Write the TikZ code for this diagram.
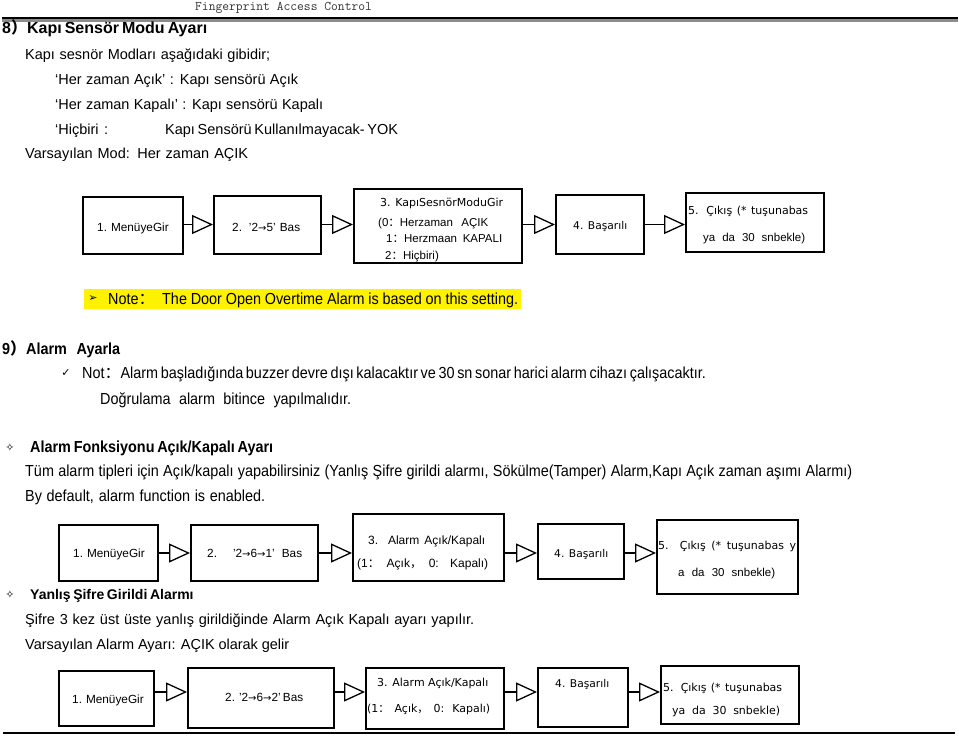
\documentclass[tikz,border=0pt]{standalone}
\usepackage{fontspec}
\setmainfont{Liberation Sans}
\newfontfamily\nar[FakeStretch=0.9]{Liberation Sans}
\newfontfamily\dv{DejaVu Sans}
\newfontfamily\cjk{Noto Sans CJK SC}
\usetikzlibrary{arrows.meta}
\newcommand\rarr{{\dv\fontsize{10pt}{10pt}\selectfont →}}
\newcommand\fc{{\cjk ：}}
\newcommand\fcm{{\cjk ，}}
\newcommand\fpar{{\cjk ）}}
\newcommand\Fs[1]{\fontsize{#1pt}{#1pt}\selectfont}
\newcommand\boxat[5]{\node[bxs, minimum width={#4pt-#2pt}, minimum height={#5pt-#3pt}] (#1) at (#2,#3) {};}
\newcommand\tx[6]{\node[anchor=base west, inner sep=0pt, font=#5] (#1) at (#2,#3) {\makebox[#4pt][s]{#6}};}
\newcommand\tn[5]{\node[anchor=base west, inner sep=0pt, font=#4] (#1) at (#2,#3) {#5};}
\tikzset{
  bxs/.style={draw, line width=1.8pt, anchor=north west, inner sep=0pt},
  flow/.style={line width=1.3pt, -{Triangle[open, length=21pt, width=19pt]}},
  sym/.style={inner sep=0pt, font=\dv\Fs{11}}
}
\begin{document}
\begin{tikzpicture}[x=1pt, y=-1pt]
\useasboundingbox (0,0) rectangle (959,736);
% header
\node[anchor=base west, inner sep=0pt, font=\ttfamily\Fs{13.2}, text=black!80] (hdr) at (195,10) {Fingerprint Access Control};
\coordinate (hl1) at (2,18);
\coordinate (hl2) at (958,18);
\draw[line width=2.4pt] (hl1) -- (hl2);
\draw[line width=2.4pt, black!45] ([yshift=-2.5pt]hl1) -- ([yshift=-2.5pt]hl2);
\coordinate (bl1) at (3,733);
\coordinate (bl2) at (955,733);
\draw[line width=2.6pt] (bl1) -- (bl2);

% section 8
\tx{s8h}{2}{34}{205}{\bfseries\Fs{16}}{8\fpar Kapı Sensör Modu Ayarı}
\tx{l1}{25}{59}{245}{\Fs{14.5}}{Kapı sesnör Modları aşağıdaki gibidir;}
\tx{l2}{55}{84}{243}{\Fs{14.5}}{‘Her zaman Açık’ : Kapı sensörü Açık}
\tx{l3}{55}{109}{268}{\Fs{14.5}}{‘Her zaman Kapalı’ : Kapı sensörü Kapalı}
\tx{l4a}{55}{134}{53}{\Fs{14.5}}{‘Hiçbiri :}
\tx{l4b}{165}{134}{232}{\Fs{14.5}}{Kapı Sensörü Kullanılmayacak- YOK}
\tx{l5}{25}{158}{223}{\Fs{14.5}}{Varsayılan Mod:  Her zaman AÇIK}

% row 1
\coordinate (r1) at (0,224.5);
\boxat{b11}{82}{196}{182}{253}
\boxat{b12}{213}{195}{320}{253}
\boxat{b13}{353}{188}{521}{262}
\boxat{b14}{555}{194}{643}{253}
\boxat{b15}{685}{192}{823}{251}
\draw[flow] (b11.east |- r1) -- (b12.west |- r1);
\draw[flow] (b12.east |- r1) -- (b13.west |- r1);
\draw[flow] (b13.east |- r1) -- (b14.west |- r1);
\draw[flow] (b14.east |- r1) -- (b15.west |- r1);
\tx{t11}{97}{231}{70}{\Fs{11.8}}{1. MenüyeGir}
\tx{t12}{232}{231}{68}{\Fs{11.8}}{2. ’2\rarr5’ Bas}
\tn{t13a}{380}{206}{\dv\Fs{11}}{3. KapıSesnörModuGir}
\tx{t13b}{378}{226}{110}{\Fs{11.5}}{(0\fc Herzaman AÇIK}
\tx{t13c}{386}{242}{116}{\Fs{11.5}}{1\fc Herzmaan KAPALI}
\tx{t13d}{385}{259}{58}{\Fs{11.5}}{2\fc Hiçbiri)}
\tn{t14}{573}{229}{\dv\Fs{10.7}}{4. Başarılı}
\tx{t15a}{688}{214}{120}{\dv\Fs{11}}{5. Çıkış (* tuşunabas}
\tx{t15b}{703}{241}{102}{\Fs{11.5}}{ya da 30 snbekle)}

% note
\fill[yellow] (84,289) rectangle (521,309);
\node[sym] (nar) at (93,299) {➢};
\tx{nt1}{108}{304}{40}{\nar\Fs{16}}{Note\fc}
\tx{nt2}{162}{304}{356}{\nar\Fs{16}}{The Door Open Overtime Alarm is based on this setting.}

% section 9
\tx{s9h}{2}{354}{118}{\nar\bfseries\Fs{16}}{9\fpar Alarm  Ayarla}
\node[sym] (chk) at (66,373) {✓};
\tx{n1}{82}{378.5}{618}{\nar\Fs{16}}{Not\fc Alarm başladığında buzzer devre dışı kalacaktır ve 30 sn sonar harici alarm cihazı çalışacaktır.}
\tx{n2}{100}{404.5}{251}{\nar\Fs{16}}{Doğrulama alarm bitince yapılmalıdır.}
\node[sym] (st1) at (10,447) {✧};
\tx{h2}{30}{452.5}{243}{\nar\bfseries\Fs{16}}{Alarm Fonksiyonu Açık/Kapalı Ayarı}
\tx{n3}{25}{476.5}{827}{\nar\Fs{16}}{Tüm alarm tipleri için Açık/kapalı yapabilirsiniz (Yanlış Şifre girildi alarmı, Sökülme(Tamper) Alarm,Kapı Açık zaman aşımı Alarmı)}
\tx{n4}{25}{501.5}{240}{\nar\Fs{16}}{By default, alarm function is enabled.}

% row 2
\coordinate (r2) at (0,553);
\boxat{b21}{58}{524}{157}{580}
\boxat{b22}{190}{524}{317}{580}
\boxat{b23}{352}{513}{503}{580}
\boxat{b24}{537}{523}{623}{578}
\boxat{b25}{656}{519}{797}{593}
\draw[flow] (b21.east |- r2) -- (b22.west |- r2);
\draw[flow] (b22.east |- r2) -- (b23.west |- r2);
\draw[flow] (b23.east |- r2) -- (b24.west |- r2);
\draw[flow] (b24.east |- r2) -- (b25.west |- r2);
\tx{t21}{73}{557}{70}{\Fs{11.8}}{1. MenüyeGir}
\tx{t22}{207}{557}{95}{\Fs{11.8}}{2.   ’2\rarr6\rarr1’ Bas}
\tx{t23a}{368}{544}{117}{\Fs{12}}{3. Alarm Açık/Kapalı}
\tx{t23b}{357}{567}{131}{\Fs{12}}{(1\fc{} Açık\fcm{} 0: Kapalı)}
\tn{t24}{554}{557}{\dv\Fs{10.7}}{4. Başarılı}
\tx{t25a}{658}{549}{138}{\dv\Fs{11}}{5. Çıkış (* tuşunabas   y}
\tx{t25b}{678}{576}{97}{\Fs{11.5}}{a da 30 snbekle)}

% section wrong password
\node[sym] (st2) at (10,594) {✧};
\tx{h3}{30}{599}{162}{\bfseries\Fs{14}}{Yanlış Şifre Girildi Alarmı}
\tx{n5}{25}{624}{449}{\Fs{14.5}}{Şifre 3 kez üst üste yanlış girildiğinde Alarm Açık Kapalı ayarı yapılır.}
\tx{n6}{25}{649}{264}{\Fs{14.5}}{Varsayılan Alarm Ayarı: AÇIK olarak gelir}

% row 3
\coordinate (r3) at (0,692);
\boxat{b31}{58}{670}{153}{725}
\boxat{b32}{187}{667}{333}{727}
\boxat{b33}{365}{667}{503}{728}
\boxat{b34}{537}{667}{627}{726}
\boxat{b35}{660}{665}{798}{723}
\draw[flow] (b31.east |- r3) -- (b32.west |- r3);
\draw[flow] (b32.east |- r3) -- (b33.west |- r3);
\draw[flow] (b33.east |- r3) -- (b34.west |- r3);
\draw[flow] (b34.east |- r3) -- (b35.west |- r3);
\tx{t31}{72}{703}{70}{\Fs{11.8}}{1. MenüyeGir}
\tx{t32}{225}{701}{78}{\Fs{11.8}}{2. ’2\rarr6\rarr2’ Bas}
\tn{t33a}{377}{686}{\dv\Fs{11}}{3. Alarm Açık/Kapalı}
\tx{t33b}{367}{712}{123}{\dv\Fs{11}}{(1\fc{} Açık\fcm{} 0: Kapalı)}
\tn{t34}{555}{687}{\dv\Fs{10.7}}{4. Başarılı}
\tx{t35a}{663}{691}{119}{\dv\Fs{11}}{5. Çıkış (* tuşunabas}
\tx{t35b}{672}{714}{108}{\dv\Fs{11}}{ya da 30 snbekle)}
\end{tikzpicture}
\end{document}
